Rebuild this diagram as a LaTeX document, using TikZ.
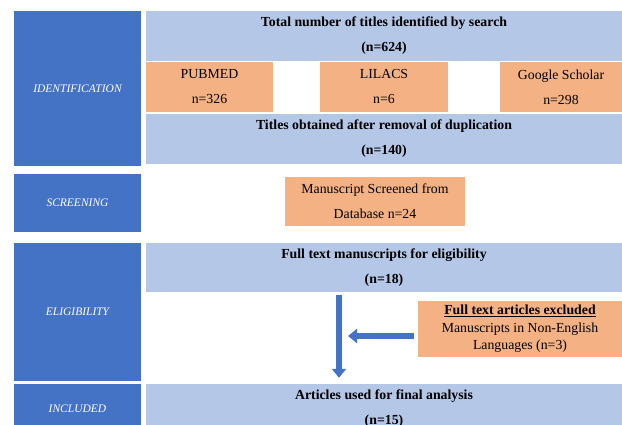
\documentclass[tikz,border=0pt]{standalone}
\usepackage{fontspec}
\setmainfont{Liberation Serif}
\usetikzlibrary{arrows.meta}
\definecolor{stageblue}{RGB}{68,114,196}
\definecolor{boxblue}{RGB}{180,199,231}
\definecolor{boxorange}{RGB}{244,177,131}
\begin{document}
\begin{tikzpicture}[x=1pt, y=-1pt,
    stage/.style={fill=stageblue, text=white, inner sep=0, minimum width=127pt,
      font=\itshape\fontsize{11.5}{14}\selectfont},
    countbox/.style={fill=boxblue, inner sep=0, align=center,
      font=\bfseries\fontsize{13.8}{25}\selectfont},
    sourcebox/.style={fill=boxorange, inner sep=0, align=center,
      font=\fontsize{13.8}{25}\selectfont},
    flow/.style={draw=stageblue, line width=6.5pt, -{Triangle[width=14pt, length=9pt]}}]
  \useasboundingbox (0, 0) rectangle (622, 425);
  \node[stage, minimum height=155pt] (ident) at (77.5, 88.5) {IDENTIFICATION};
  \node[stage, minimum height=58pt] (screen) at (77.5, 203) {SCREENING};
  \node[stage, minimum height=138pt] (elig) at (77.5, 312) {ELIGIBILITY};
  \node[stage, minimum height=50pt] (incl) at (77.5, 409) {INCLUDED};
  \node[countbox, minimum width=476pt, minimum height=50pt] (total) at (384, 36)
    {Total number of titles identified by search\\(n=624)};
  \node[sourcebox, minimum width=127pt, minimum height=50pt] (pubmed) at (209.5, 87)
    {PUBMED\\n=326};
  \node[sourcebox, minimum width=128pt, minimum height=50pt] (lilacs) at (384, 87)
    {LILACS\\n=6};
  \node[sourcebox, minimum width=122pt, minimum height=50pt] (scholar) at (561, 87)
    {Google Scholar\\n=298};
  \node[countbox, minimum width=476pt, minimum height=50pt] (dedup) at (384, 139)
    {Titles obtained after removal of duplication\\(n=140)};
  \node[sourcebox, minimum width=180pt, minimum height=49pt] (screened) at (375, 201.5)
    {Manuscript Screened from\\Database n=24};
  \node[countbox, minimum width=476pt, minimum height=49pt] (fulltext) at (384, 267.5)
    {Full text manuscripts for eligibility\\(n=18)};
  \node[sourcebox, minimum width=204pt, minimum height=56pt,
    font=\fontsize{13.8}{17.5}\selectfont] (excluded) at (520, 329)
    {\textbf{\underline{Full text articles excluded}}\\Manuscripts in Non-English\\Languages (n=3)};
  \node[countbox, minimum width=476pt, minimum height=50pt] (included) at (384, 409)
    {Articles used for final analysis\\(n=15)};
  \coordinate (split) at (339, 0);
  \coordinate (exit) at ([yshift=-7pt]excluded.west);
  \draw[flow, shorten <=3pt, shorten >=6pt] (fulltext.south -| split) -- (included.north -| split);
  \draw[flow, shorten <=4pt, shorten >=9pt] (exit) -- (split |- exit);
\end{tikzpicture}
\end{document}
